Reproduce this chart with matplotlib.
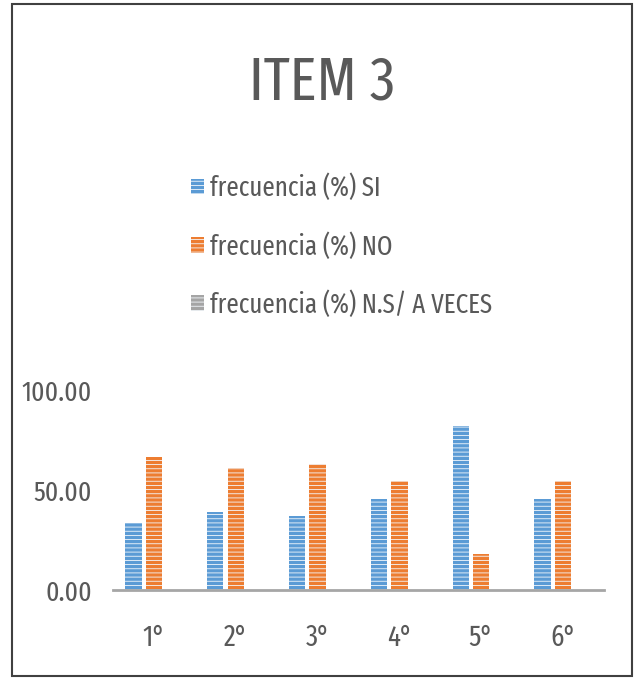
import matplotlib
matplotlib.use("Agg")
import matplotlib.pyplot as plt
import numpy as np
from matplotlib.patches import Rectangle

categories = ["1°", "2°", "3°", "4°", "5°", "6°"]
si = [33.6, 39.2, 37.2, 45.3, 82.2, 45.3]
no = [66.4, 60.8, 62.8, 54.7, 17.8, 54.7]
nsav = [0, 0, 0, 0, 0, 0]
series_labels = ["frecuencia (%) SI", "frecuencia (%) NO", "frecuencia (%) N.S/ A VECES"]
yticks = [0, 50, 100]

plt.rcParams["font.family"] = ["Fira Sans Extra Condensed", "Roboto Condensed", "DejaVu Sans"]
plt.rcParams["font.weight"] = "normal"
plt.rcParams["hatch.linewidth"] = 0.6

txt = "#595959"
colors = ["#5B9BD5", "#ED7D31", "#A5A5A5"]

fig = plt.figure(figsize=(6.4, 6.8), dpi=100)
fig.patches.append(Rectangle((12/640, 4/680), 620/640, 672/680, transform=fig.transFigure,
                             fill=False, edgecolor="#404040", linewidth=1.5))

ax = fig.add_axes([113/640, 90/680, 491/640, 200/680])
x = np.arange(len(categories))
w = 0.2
offs = [-0.25, 0, 0.25]
handles = []
for vals, c, o, lab in zip([si, no, nsav], colors, offs, series_labels):
    b = ax.bar(x + o, vals, width=w, color=c, edgecolor="#F4F8FC", linewidth=0,
               hatch="----", label=lab)
    handles.append(b)

ax.set_xlim(-0.5, 5.5)
ax.set_ylim(0, 100)
ax.set_yticks(yticks)
ax.set_yticklabels([f"{v:.2f}" for v in yticks])
ax.set_xticks(x)
ax.set_xticklabels(categories)
ax.tick_params(axis="both", length=0, labelsize=21, colors=txt)
ax.tick_params(axis="y", labelsize=20, pad=15)
ax.tick_params(axis="x", pad=24)
for s in ["top", "right", "left"]:
    ax.spines[s].set_visible(False)
ax.spines["bottom"].set_color("#A6A6A6")
ax.spines["bottom"].set_linewidth(2)
ax.set_facecolor("none")

fig.text(322/640, 1 - 83/680, "ITEM 3", ha="center", va="center", fontsize=44,
         color=txt, fontweight="normal")

leg = fig.legend(handles=handles, loc="upper left", bbox_to_anchor=(167/640, 1 - 150/680),
                 frameon=False, fontsize=19.5, handlelength=0.45, handleheight=0.5,
                 handletextpad=0.25, labelspacing=1.13)
for t in leg.get_texts():
    t.set_color(txt)

fig.savefig("out.png", dpi=100)
